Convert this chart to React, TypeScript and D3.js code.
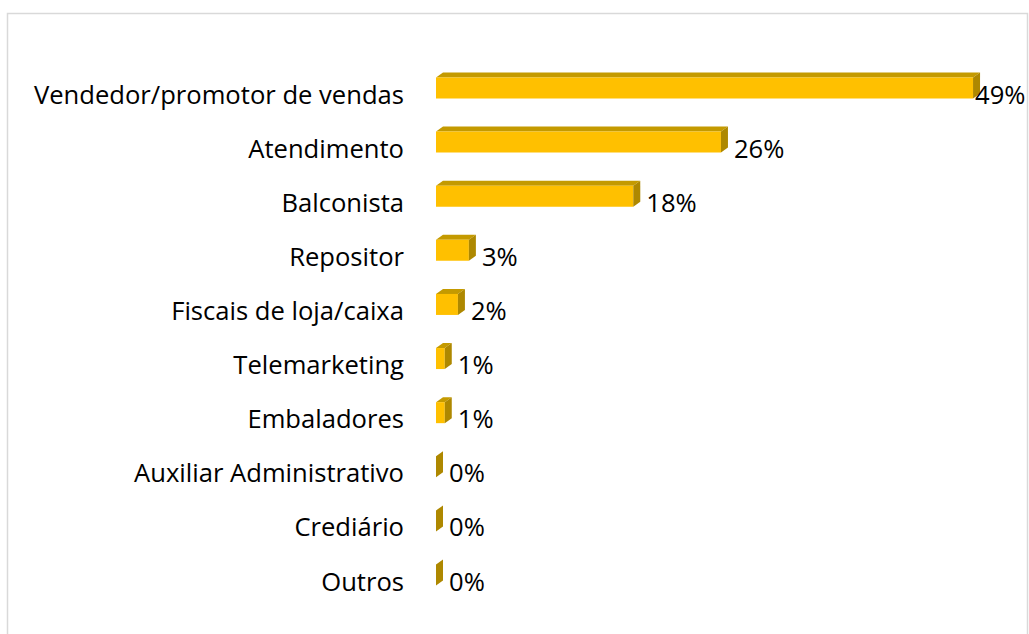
import React from 'react'
import * as d3 from 'd3'

const categories = [
  'Vendedor/promotor de vendas',
  'Atendimento',
  'Balconista',
  'Repositor',
  'Fiscais de loja/caixa',
  'Telemarketing',
  'Embaladores',
  'Auxiliar Administrativo',
  'Crediário',
  'Outros',
]
const values = [49, 26, 18, 3, 2, 0.8, 0.8, 0, 0, 0]
const valueLabels = ['49%', '26%', '18%', '3%', '2%', '1%', '1%', '0%', '0%', '0%']

const width = 1029
const height = 634
const font = '"Open Sans", Lato, sans-serif'
const fontSize = 25.6

// 3d look of the excel bars
const depthX = 7
const depthY = 5
const barH = 21

const colFront = '#FFC000'
const colTop = '#C49A00'
const colSide = '#AE8800'

export default function App() {
  const xScale = d3.scaleLinear().domain([0, 50]).range([436, 984])
  const yScale = d3.scalePoint<string>().domain(categories).range([94, 581])
  const x0 = xScale(0)

  const bars = categories.map((cat, i) => {
    const yc = yScale(cat) as number
    const top = yc - 6 - barH / 2
    const x1 = xScale(values[i])
    const frontPts = [[x0, top], [x1, top], [x1, top + barH], [x0, top + barH]]
    const topPts = [[x0, top], [x0 + depthX, top - depthY], [x1 + depthX, top - depthY], [x1, top]]
    const sidePts = [[x1, top], [x1 + depthX, top - depthY], [x1 + depthX, top + barH - depthY], [x1, top + barH]]
    const pts = (p: number[][]) => p.map(d => d.join(',')).join(' ')
    const lx = Math.min(x1 + depthX + 6, 975)
    return (
      <g key={cat}>
        <text x={404} y={yc + 9.5} textAnchor='end' fontFamily={font} fontSize={fontSize} fill='#000'>
          {cat}
        </text>
        {values[i] > 0 && <polygon points={pts(topPts)} fill={colTop} />}
        {values[i] > 0 && <polygon points={pts(frontPts)} fill={colFront} />}
        <polygon points={pts(sidePts)} fill={colSide} />
        <text x={lx} y={yc + 9.5} textAnchor='start' fontFamily={font} fontSize={fontSize} fill='#000'>
          {valueLabels[i]}
        </text>
      </g>
    )
  })

  return (
    <svg width={width} height={height} style={{ position: 'absolute', left: 0, top: 0, background: '#fff' }}>
      <rect x={7.5} y={13.5} width={1020} height={700} fill='#fff' stroke='#D9D9D9' strokeWidth={1.5} />
      {bars}
    </svg>
  )
}
